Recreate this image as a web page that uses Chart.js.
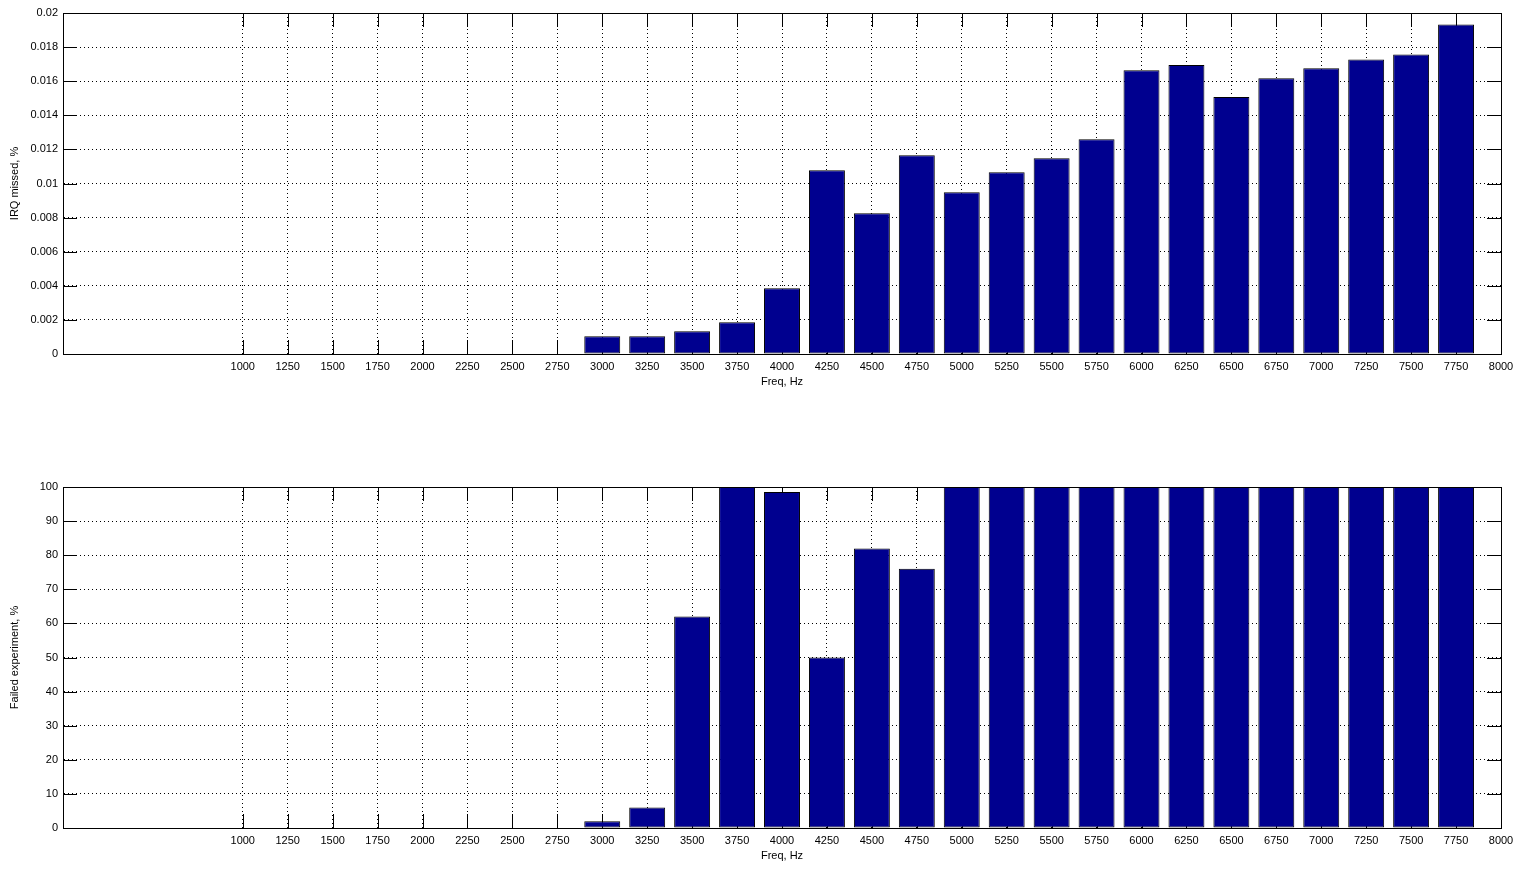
<!DOCTYPE html>
<html>
<head>
<meta charset="utf-8">
<script src="https://cdn.jsdelivr.net/npm/chart.js@4"></script>
<style>
  body { margin: 0; background: #fff; }
  canvas { position: absolute; left: 0; }
  #irqChart { top: 0; }
  #failChart { top: 474px; }
</style>
</head>
<body>
<canvas id="irqChart" width="1521" height="392"></canvas>
<canvas id="failChart" width="1521" height="392"></canvas>
<script>
const freqs = [1000, 1250, 1500, 1750, 2000, 2250, 2500, 2750, 3000, 3250, 3500, 3750,
  4000, 4250, 4500, 4750, 5000, 5250, 5500, 5750, 6000, 6250, 6500, 6750, 7000, 7250, 7500, 7750];
const freqTicks = [1000, 1250, 1500, 1750, 2000, 2250, 2500, 2750, 3000, 3250, 3500, 3750, 4000,
  4250, 4500, 4750, 5000, 5250, 5500, 5750, 6000, 6250, 6500, 6750, 7000, 7250, 7500, 7750, 8000];
const irqMissed = [0, 0, 0, 0, 0, 0, 0, 0, 0.00104, 0.00104, 0.00133, 0.00186,
  0.00385, 0.01077, 0.00825, 0.01165, 0.00948, 0.01066, 0.01148, 0.01259,
  0.01664, 0.01695, 0.01507, 0.01617, 0.01676, 0.01728, 0.01757, 0.01932];
const failedExp = [0, 0, 0, 0, 0, 0, 0, 0, 2, 6, 62, 100,
  98.5, 50, 82, 76, 100, 100, 100, 100,
  100, 100, 100, 100, 100, 100, 100, 100];

const FONT = { family: "'Liberation Sans', Arial, sans-serif", size: 11 };
const TICK_LEN = 14;

// matlab-ish frame: inner tick marks under the bars, box on top
const matlabAxes = {
  id: "matlabAxes",
  beforeDatasetsDraw(chart) {
    const { ctx, chartArea: a, scales: { x, y } } = chart;
    ctx.save();
    ctx.strokeStyle = "#000";
    ctx.lineWidth = 1;
    ctx.beginPath();
    x.ticks.forEach((t) => {
      const px = Math.round(x.getPixelForValue(t.value)) + 0.5;
      ctx.moveTo(px, a.top);
      ctx.lineTo(px, a.top + TICK_LEN);
      ctx.moveTo(px, a.bottom);
      ctx.lineTo(px, a.bottom - TICK_LEN);
    });
    y.ticks.forEach((t) => {
      const py = Math.round(y.getPixelForValue(t.value)) + 0.5;
      ctx.moveTo(a.left, py);
      ctx.lineTo(a.left + TICK_LEN, py);
      ctx.moveTo(a.right, py);
      ctx.lineTo(a.right - TICK_LEN, py);
    });
    ctx.stroke();
    ctx.restore();
  },
  afterDatasetsDraw(chart) {
    const { ctx, chartArea: a } = chart;
    ctx.save();
    ctx.strokeStyle = "#000";
    ctx.lineWidth = 1;
    ctx.strokeRect(Math.round(a.left) + 0.5, Math.round(a.top) + 0.5,
      Math.round(a.right - a.left), Math.round(a.bottom - a.top));
    ctx.restore();
  },
};

function makeChart(canvasId, values, yMax, yStep, yTitle, fmt) {
  const ctx = document.getElementById(canvasId).getContext("2d");
  return new Chart(ctx, {
    type: "bar",
    data: {
      datasets: [
        {
          data: freqs.map((f, i) => ({ x: f, y: values[i] })),
          backgroundColor: "#00008F",
          borderColor: "#000",
          borderWidth: 1,
          borderSkipped: false,
          barPercentage: 0.8,
          categoryPercentage: 1.0,
        },
      ],
    },
    options: {
      responsive: false,
      animation: false,
      events: [],
      layout: { padding: { top: 13, right: 20, left: 0, bottom: 0 } },
      plugins: { legend: { display: false }, tooltip: { enabled: false } },
      scales: {
        x: {
          type: "linear",
          min: 0,
          max: 8000,
          offset: false,
          afterBuildTicks: (scale) => {
            scale.ticks = freqTicks.map((v) => ({ value: v }));
          },
          afterFit: (scale) => {
            scale.height = 38;
          },
          grid: { offset: false, color: "#000", lineWidth: 1, drawTicks: false },
          border: { display: true, color: "#000", width: 1, dash: [1, 3] },
          ticks: {
            autoSkip: false,
            maxRotation: 0,
            padding: 6,
            color: "#000",
            font: FONT,
            callback: (v) => String(v),
          },
          title: { display: true, text: "Freq, Hz", color: "#000", font: FONT, padding: { top: 0, bottom: 3 } },
        },
        y: {
          min: 0,
          max: yMax,
          afterFit: (scale) => {
            scale.width = 63;
          },
          grid: { color: "#000", lineWidth: 1, drawTicks: false },
          border: { display: true, color: "#000", width: 1, dash: [1, 3] },
          ticks: { stepSize: yStep, padding: 5, color: "#000", font: FONT, callback: fmt },
          title: { display: true, text: yTitle, color: "#000", font: FONT, padding: { top: 8, bottom: 0 } },
        },
      },
    },
    plugins: [matlabAxes],
  });
}

makeChart("irqChart", irqMissed, 0.02, 0.002, "IRQ missed, %", (v) => String(+Number(v).toFixed(4)));
makeChart("failChart", failedExp, 100, 10, "Failed experiment, %", (v) => String(Math.round(v)));
</script>
</body>
</html>
